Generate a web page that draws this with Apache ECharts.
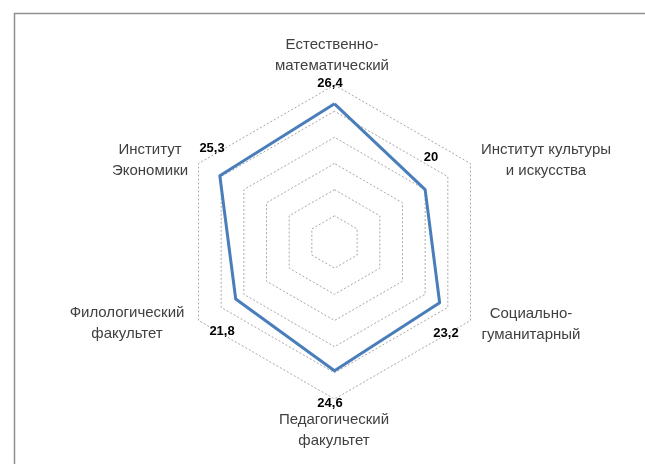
<!DOCTYPE html>
<html><head><meta charset="utf-8">
<script src="https://cdn.jsdelivr.net/npm/echarts@6/dist/echarts.min.js"></script>
<style>html,body{margin:0;padding:0;background:#fff}#c{width:645px;height:464px}</style>
</head><body><div id="c"></div>
<script>
// indicators in ECharts order (counter-clockwise from the top)
const categories = [
  "Естественно-\nматематический",
  "Институт\nЭкономики",
  "Филологический\nфакультет",
  "Педагогический\nфакультет",
  "Социально-\nгуманитарный",
  "Институт культуры\nи искусства"
];
const values = [26.4, 25.3, 21.8, 24.6, 23.2, 20];
const axisMin = 0;
const axisMax = 30;
const splitCount = 6;

// label offsets relative to each outer vertex (style only)
const nameOffsets = [[-2.5,-30],[-48.5,-3.5],[-71.5,3],[-0.5,31],[60.5,3.5],[75.5,-3]];
const valueOffsets = [[-4.5,-2],[13.5,-15.5],[23.5,10.5],[-4.5,4],[-24.5,12.5],[-39.5,-6.5]];

const chart = echarts.init(document.getElementById('c'), null, {renderer:'canvas'});
const option = {
  backgroundColor: '#ffffff',
  animation: false,
  radar: {
    center: [334.5, 242],
    radius: 157,
    startAngle: 90,
    splitNumber: splitCount,
    shape: 'polygon',
    indicator: categories.map(n => ({name: n, min: axisMin, max: axisMax})),
    axisName: {show: false},
    axisLine: {show: false},
    axisTick: {show: false},
    axisLabel: {show: false},
    splitArea: {show: false},
    splitLine: {lineStyle: {color: '#a8a8a8', width: 1, type: [2, 2]}}
  },
  series: [{
    type: 'radar',
    symbol: 'none',
    lineStyle: {color: '#4a7ebb', width: 3},
    data: [{value: values}]
  }]
};
chart.setOption(option);

function vertex(i) {
  try {
    const cs = chart.getModel().getComponent('radar', 0).coordinateSystem;
    const p = cs.dataToPoint(axisMax, i);
    if (p && isFinite(p[0])) return p;
  } catch (e) {}
  const a = Math.PI / 2 + i * 2 * Math.PI / categories.length;
  return [334.5 + 157 * Math.cos(a), 242 - 157 * Math.sin(a)];
}

const graphics = [{
  type: 'rect', silent: true,
  shape: {x: 14.5, y: 13.5, width: 700, height: 500},
  style: {fill: 'none', stroke: '#8f8f8f', lineWidth: 1.5}
}];
categories.forEach((name, i) => {
  const v = vertex(i);
  graphics.push({
    type: 'text', silent: true,
    x: v[0] + nameOffsets[i][0], y: v[1] + nameOffsets[i][1],
    style: {text: name, fill: '#404040', fontSize: 15, fontFamily: 'Liberation Sans, Arial, sans-serif',
            align: 'center', verticalAlign: 'middle', lineHeight: 21}
  });
  graphics.push({
    type: 'text', silent: true,
    x: v[0] + valueOffsets[i][0], y: v[1] + valueOffsets[i][1],
    style: {text: String(values[i]).replace('.', ','), fill: '#000000', fontSize: 13, fontWeight: 'bold',
            fontFamily: 'Liberation Sans, Arial, sans-serif', align: 'center', verticalAlign: 'middle'}
  });
});
chart.setOption({graphic: graphics});
</script>
</body></html>
